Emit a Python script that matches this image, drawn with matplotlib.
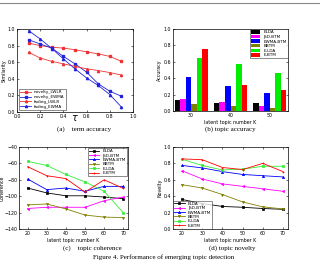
import numpy as np
import matplotlib
matplotlib.use("Agg")
import matplotlib.pyplot as plt
from matplotlib.lines import Line2D

# (a) term accuracy
tau = [0.1, 0.2, 0.3, 0.4, 0.5, 0.6, 0.7, 0.8, 0.9]
novelty_lwlr = [0.83, 0.80, 0.78, 0.77, 0.75, 0.725, 0.70, 0.67, 0.61]
novelty_ewma = [0.87, 0.82, 0.77, 0.67, 0.58, 0.48, 0.34, 0.25, 0.19]
fading_lwlr = [0.72, 0.65, 0.61, 0.58, 0.55, 0.52, 0.50, 0.475, 0.445]
fading_ewma = [0.98, 0.88, 0.765, 0.64, 0.52, 0.41, 0.32, 0.21, 0.06]

# (b) topic accuracy
groups = [30, 40, 50]
methods = ["ELDA", "JSD-BTM", "EWMA-BTM", "BBTM", "E-LDA", "E-BTM"]
acc = {
    "ELDA": [0.14, 0.095, 0.095],
    "JSD-BTM": [0.15, 0.115, 0.065],
    "EWMA-BTM": [0.41, 0.31, 0.215],
    "BBTM": [0.09, 0.055, 0.04],
    "E-LDA": [0.65, 0.57, 0.46],
    "E-BTM": [0.76, 0.315, 0.255],
}

# (c) topic coherence / (d) topic novelty
K = [20, 30, 40, 50, 60, 70]
coherence = {
    "ELDA": [-90, -96, -99.5, -99.5, -101, -103],
    "JSD-BTM": [-115, -113.5, -113.5, -113.5, -105.5, -101],
    "EWMA-BTM": [-79, -92, -90, -94, -88, -88],
    "BBTM": [-110.5, -109.5, -115.5, -123, -125.5, -126],
    "E-LDA": [-57.5, -62.5, -73.5, -82.5, -94, -120],
    "E-BTM": [-64, -75, -78.5, -95, -80, -90.5],
}
novelty = {
    "ELDA": [0.36, 0.31, 0.275, 0.265, 0.25, 0.24],
    "JSD-BTM": [0.71, 0.61, 0.55, 0.52, 0.49, 0.46],
    "EWMA-BTM": [0.775, 0.745, 0.70, 0.665, 0.65, 0.635],
    "BBTM": [0.54, 0.50, 0.42, 0.33, 0.27, 0.245],
    "E-LDA": [0.85, 0.775, 0.72, 0.73, 0.765, 0.765],
    "E-BTM": [0.855, 0.845, 0.75, 0.725, 0.80, 0.70],
}

colors = {"ELDA": "black", "JSD-BTM": "magenta", "EWMA-BTM": "blue",
          "BBTM": "#808000", "E-LDA": "#33ee33", "E-BTM": "red"}
markers = {"ELDA": "s", "JSD-BTM": "<", "EWMA-BTM": "^",
           "BBTM": "v", "E-LDA": "s", "E-BTM": "+"}

W, H = 320, 264
fig = plt.figure(figsize=(W / 100, H / 100), dpi=100)
fs = 3.4


def px_axes(l, t, r, b):
    return fig.add_axes([l / W, 1 - b / H, (r - l) / W, (b - t) / H])


def style(ax):
    ax.tick_params(direction="in", top=True, right=True, labelsize=fs,
                   length=1.5, width=0.4, pad=1.2)
    for s in ax.spines.values():
        s.set_linewidth(0.5)


# panel a
ax = px_axes(17, 29, 133, 112)
ax.plot(tau, novelty_lwlr, "-s", color="#ee3333", lw=0.6, ms=1.6, label="novelty_LWLR")
ax.plot(tau, novelty_ewma, "-s", color="#2222dd", lw=0.6, ms=1.6, label="novelty_EWMA")
ax.plot(tau, fading_lwlr, "-^", color="#ee3333", lw=0.6, ms=1.6, label="fading_LWLR")
ax.plot(tau, fading_ewma, "-^", color="#2222dd", lw=0.6, ms=1.6, label="fading_EWMA")
ax.set_xlim(0, 1)
ax.set_ylim(0, 1)
ax.set_xticks(np.arange(0, 1.01, 0.2))
ax.set_yticks(np.arange(0, 1.01, 0.2))
ax.set_ylabel("Similarity", fontsize=fs, labelpad=1)
style(ax)
ax.legend(loc="lower left", fontsize=3, frameon=True, fancybox=False,
          edgecolor="black", borderpad=0.3, handlelength=2.5,
          labelspacing=0.2).get_frame().set_linewidth(0.4)
fig.text(75 / W, 1 - 118 / H, r"$\tau$", ha="center", va="center", fontsize=7)

# panel b
ax = px_axes(173, 29, 288, 111)
bw = 1.4
for i, m in enumerate(methods):
    xs = [g + (i - 2.5) * bw for g in groups]
    ax.bar(xs, acc[m], width=bw, color=colors[m] if m != "E-LDA" else "#00ee00",
           edgecolor="none", label=m)
ax.set_xlim(25.4, 54.6)
ax.set_ylim(0, 1)
ax.set_xticks(groups)
ax.set_yticks(np.arange(0, 1.01, 0.2))
ax.set_ylabel("Accuracy", fontsize=fs, labelpad=1)
ax.set_xlabel("latent topic number K", fontsize=fs, labelpad=2)
style(ax)
ax.tick_params(top=False, bottom=False)
ax.legend(loc="upper right", fontsize=3, frameon=True, fancybox=False,
          edgecolor="black", borderpad=0.2, handlelength=2.2, handleheight=0.9,
          labelspacing=0.1, borderaxespad=0.1).get_frame().set_linewidth(0.4)

# panel c
ax = px_axes(19, 147, 128, 229)
for m in methods:
    ax.plot(K, coherence[m], "-", marker=markers[m], color=colors[m], lw=0.6,
            ms=1.6, mew=0.5, label=m)
ax.set_xlim(15.5, 72.5)
ax.set_ylim(-140, -40)
ax.set_xticks(K)
ax.set_yticks(np.arange(-140, -39, 20))
ax.set_ylabel("Coherence", fontsize=fs, labelpad=0)
ax.set_xlabel("latent topic number K", fontsize=fs, labelpad=2)
style(ax)
ax.legend(loc="upper right", fontsize=3, frameon=True, fancybox=False,
          edgecolor="black", borderpad=0.2, handlelength=2.5,
          labelspacing=0.1, borderaxespad=0.3).get_frame().set_linewidth(0.4)

# panel d
ax = px_axes(173, 147, 288, 229)
for m in methods:
    ax.plot(K, novelty[m], "-", marker=markers[m], color=colors[m], lw=0.6,
            ms=1.6, mew=0.5, label=m)
ax.set_xlim(15.5, 72.5)
ax.set_ylim(0, 1)
ax.set_xticks(K)
ax.set_yticks(np.arange(0, 1.01, 0.2))
ax.set_ylabel("Novelty", fontsize=fs, labelpad=1)
ax.set_xlabel("latent topic number K", fontsize=fs, labelpad=2)
style(ax)
ax.legend(loc="lower left", fontsize=3, frameon=True, fancybox=False,
          edgecolor="black", borderpad=0.2, handlelength=2.5,
          labelspacing=0.1, borderaxespad=0.1).get_frame().set_linewidth(0.4)

# captions
serif = "Liberation Serif"
fig.text(84 / W, 1 - 129 / H, "(a)    term accuracy", ha="center", va="center",
         fontsize=5, family=serif)
fig.text(230 / W, 1 - 129 / H, "(b) topic accuracy", ha="center", va="center",
         fontsize=5, family=serif)
fig.text(92 / W, 1 - 248 / H, "(c)    topic coherence", ha="center", va="center",
         fontsize=5, family=serif)
fig.text(232 / W, 1 - 248 / H, "(d) topic novelty", ha="center", va="center",
         fontsize=5, family=serif)
fig.text(164 / W, 1 - 257 / H, "Figure 4. Performance of emerging topic detection",
         ha="center", va="center", fontsize=5, family=serif)

fig.add_artist(Line2D([0, 1], [1 - 3 / H, 1 - 3 / H], color="#888888", lw=0.8,
                      transform=fig.transFigure))

fig.savefig("out.png", dpi=100)
